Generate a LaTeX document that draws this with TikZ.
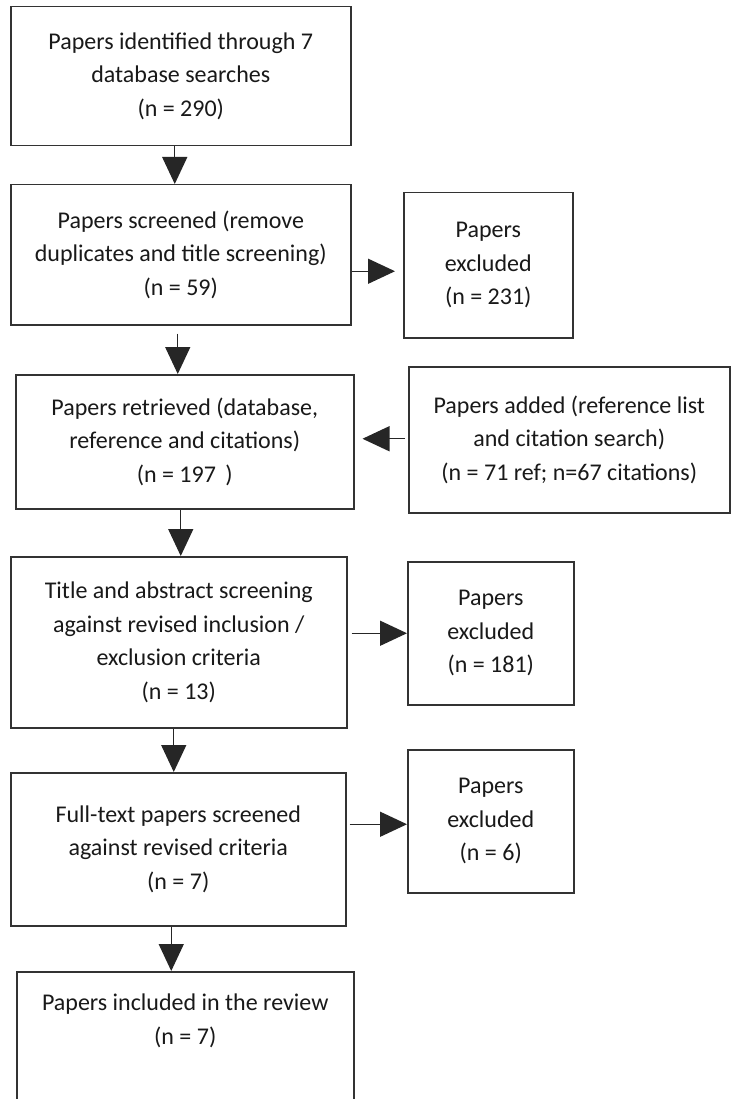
\documentclass[tikz,border=0pt]{standalone}
\usepackage{fontspec}
\setmainfont{Carlito}
\usetikzlibrary{arrows.meta}

\begin{document}
\begin{tikzpicture}[x=1pt, y=-1pt, >={Triangle[width=25pt,length=27pt]},
    box/.style={draw=black!80, line width=1.5pt, anchor=north west, align=center,
      inner sep=0pt, text=black!90, font=\fontsize{24}{33.5}\selectfont},
    flow/.style={->, line width=1.4pt, draw=black!85}]
            % Page
            \fill[white] (0,0) rectangle (731,1099);
            \useasboundingbox (0,0) rectangle (731,1099);

            % Main column
            \node[box, minimum width=340pt, minimum height=139pt] (ident) at (10,6)
              {Papers identified through 7\\database searches\\(n = 290)};
            \node[box, minimum width=340pt, minimum height=140pt] (screen) at (10,184)
              {Papers screened (remove\\duplicates and title screening)\\(n = 59)};
            \node[box, minimum width=338pt, minimum height=134pt] (retr) at (15,374)
              {Papers retrieved (database,\\reference and citations)\\(n = 197 \,)};
            \node[box, minimum width=336pt, minimum height=171pt] (title) at (10,556)
              {Title and abstract screening\\against revised inclusion /\\exclusion criteria\\(n = 13)};
            \node[box, minimum width=335pt, minimum height=153pt] (full) at (10,772)
              {Full-text papers screened\\against revised criteria\\(n = 7)};
            \node[box, minimum width=337pt, minimum height=170pt] (incl) at (16,971)
              {Papers included in the review\\(n = 7)\\[42pt]\mbox{}};

            % Side boxes
            \node[box, minimum width=169pt, minimum height=145pt] (exA) at (403,192)
              {Papers\\excluded\\(n = 231)};
            \node[box, minimum width=321pt, minimum height=146pt] (added) at (408,366)
              {Papers added (reference list\\and citation search)\\(n = 71 ref; n=67 citations)};
            \node[box, minimum width=166pt, minimum height=143pt] (exB) at (407,561)
              {Papers\\excluded\\(n = 181)};
            \node[box, minimum width=166pt, minimum height=143pt] (exC) at (407,749)
              {Papers\\excluded\\(n = 6)};

            % Downward arrows
            \draw[flow] ([xshift=-6pt]ident.south) -- ([xshift=-6pt]ident.south |- screen.north);
            \draw[flow, shorten <=8pt] ([xshift=-3pt]screen.south) -- ([xshift=-3pt]screen.south |- retr.north);
            \draw[flow] ([xshift=-4pt]retr.south) -- ([xshift=-4pt]retr.south |- title.north);
            \draw[flow] ([xshift=-5pt]title.south) -- ([xshift=-5pt]title.south |- full.north);
            \draw[flow] ([xshift=-7pt]full.south) -- ([xshift=-7pt]full.south |- incl.north);

            % Sideways arrows
            \draw[flow, shorten >=8pt] ([yshift=-6pt]exA.west -| screen.east) -- ([yshift=-6pt]exA.west);
            \draw[flow, shorten >=8pt, shorten <=3pt] ([yshift=1pt]added.west) -- ([yshift=1pt]added.west -| retr.east);
            \draw[flow, shorten <=4pt] (exB.west -| title.east) -- (exB.west);
            \draw[flow, shorten <=3pt] ([yshift=-3pt]exC.west -| full.east) -- ([yshift=-3pt]exC.west);
        \end{tikzpicture}
\end{document}
